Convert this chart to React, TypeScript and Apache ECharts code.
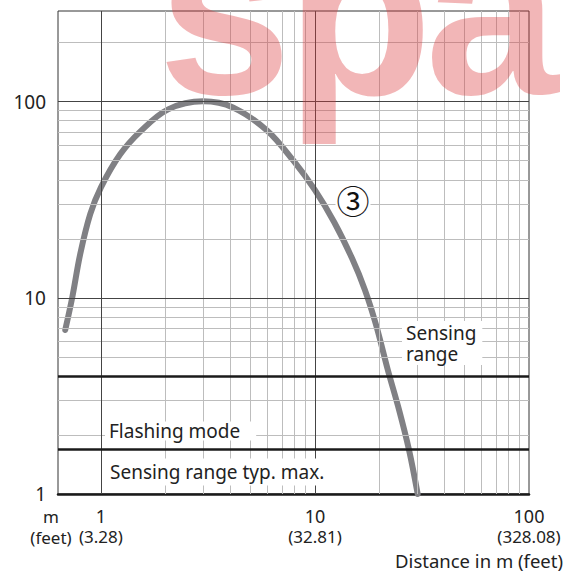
import React, { useEffect, useRef } from "react";
import * as echarts from "echarts";

// Curve ③ : distance (m) vs. excess gain
const curveX = [0.681, 0.735, 0.8, 0.891, 1.0, 1.23, 1.53, 2.06, 3.0, 4.14, 5.97, 7.9, 10, 12.3, 14.9, 17.1, 19.3, 21.9, 24.7, 27.5, 30.2];
const curveY = [6.86, 10.1, 16.7, 26.7, 36.6, 53.9, 70.6, 91.4, 100.4, 93.5, 71.4, 50.3, 35.4, 24.3, 15.9, 11.0, 7.27, 4.29, 2.69, 1.68, 1.0];

const xTickValues = [1, 10, 100];
const xTickMeters = ["1", "10", "100"];
const xTickFeet = ["(3.28)", "(32.81)", "(328.08)"];
const yTickValues = [1, 10, 100];
const yTickLabels = ["1", "10", "100"];

const xMinorGrid = [2, 3, 4, 5, 6, 7, 8, 9, 20, 30, 40, 50, 60, 70, 80, 90];
const xMajorGrid = [1, 10];
const yMinorGrid = [2, 3, 5, 6, 7, 8, 9, 20, 30, 40, 50, 60, 70, 80, 90, 200];
const yMajorGrid = [10, 100];
const thresholdLines = [1.7, 4]; // flashing mode, sensing range
const xRange = [0.63, 100];
const yRange = [1, 290];

const curveName = "③";
const labelSensingRange = "Sensing\nrange";
const labelFlashing = "Flashing mode";
const labelTypMax = "Sensing range typ. max.";
const axisUnit = "m\n(feet)";
const axisTitle = "Distance in m (feet)";
const watermarkLetters = ["s", "p", "a"];
const watermarkX = [158, 286, 425];

export default function App() {
  const ref = useRef<HTMLDivElement>(null);

  useEffect(() => {
    const chart = echarts.init(ref.current!, null, { renderer: "svg" });
    const font = '"Noto Sans", sans-serif';
    const textColor = "#222";
    const findIdx = (arr: number[], v: number) =>
      arr.findIndex((t) => Math.abs(Math.log10(t) - Math.log10(v)) < 1e-6);

    const lineItems: any[] = [];
    xMinorGrid.forEach((v) => lineItems.push({ xAxis: v, lineStyle: { color: "#bdbdbd", width: 1, type: "solid" } }));
    yMinorGrid.forEach((v) => lineItems.push({ yAxis: v, lineStyle: { color: "#bdbdbd", width: 1, type: "solid" } }));
    xMajorGrid.forEach((v) => lineItems.push({ xAxis: v, lineStyle: { color: "#444", width: 1, type: "solid" } }));
    yMajorGrid.forEach((v) => lineItems.push({ yAxis: v, lineStyle: { color: "#444", width: 1, type: "solid" } }));
    thresholdLines.forEach((v) => lineItems.push({ yAxis: v, lineStyle: { color: "#1a1a1a", width: 2.5, type: "solid" } }));

    const textStyle = (extra: any) => ({
      fontFamily: font,
      fontSize: 19,
      fill: textColor,
      ...extra,
    });

    chart.setOption({
      animation: false,
      backgroundColor: "#fff",
      grid: {
        left: 58,
        right: 37,
        top: 11,
        bottom: 80,
        show: true,
        borderColor: "#333",
        borderWidth: 1,
        backgroundColor: "transparent",
      },
      xAxis: {
        type: "log",
        logBase: 10,
        min: xRange[0],
        max: xRange[1],
        splitLine: { show: false },
        axisTick: { show: false },
        axisLine: { show: true, onZero: false, lineStyle: { color: "#1a1a1a", width: 2.5 } },
        axisLabel: {
          margin: 11,
          formatter: (v: number) => {
            const i = findIdx(xTickValues, v);
            return i < 0 ? "" : `{m|${xTickMeters[i]}}\n{f|${xTickFeet[i]}}`;
          },
          rich: {
            m: { fontFamily: font, fontSize: 18, lineHeight: 21, color: textColor },
            f: { fontFamily: font, fontSize: 17, lineHeight: 21, color: textColor },
          },
        },
      },
      yAxis: {
        type: "log",
        logBase: 10,
        min: yRange[0],
        max: yRange[1],
        splitLine: { show: false },
        axisTick: { show: false },
        axisLine: { show: false },
        axisLabel: {
          margin: 12,
          fontFamily: font,
          fontSize: 19,
          color: textColor,
          formatter: (v: number) => {
            const i = findIdx(yTickValues, v);
            return i < 0 ? "" : yTickLabels[i];
          },
        },
      },
      series: [
        {
          type: "line",
          data: [],
          z: 1,
          silent: true,
          markLine: {
            silent: true,
            symbol: ["none", "none"],
            label: { show: false },
            emphasis: { disabled: true },
            data: lineItems,
          },
        },
        {
          name: curveName,
          type: "line",
          z: 3,
          data: curveX.map((x, i) => [x, curveY[i]]),
          smooth: 0.35,
          showSymbol: false,
          symbol: "none",
          lineStyle: { color: "#808084", width: 6, cap: "round", join: "round" },
          silent: true,
        },
      ],
      graphic: [
        {
          type: "text",
          z: 50,
          x: 402,
          y: 321,
          style: textStyle({
            text: labelSensingRange,
            textAlign: "left",
            textVerticalAlign: "top",
            lineHeight: 21,
            backgroundColor: "#fff",
            padding: [1, 6, 1, 4],
          }),
        },
        {
          type: "text",
          z: 50,
          x: 105,
          y: 431,
          style: textStyle({
            text: labelFlashing,
            textAlign: "left",
            textVerticalAlign: "middle",
            backgroundColor: "#fff",
            padding: [0, 16, 0, 4],
          }),
        },
        {
          type: "text",
          z: 50,
          x: 106,
          y: 472,
          style: textStyle({
            text: labelTypMax,
            textAlign: "left",
            textVerticalAlign: "middle",
            backgroundColor: "#fff",
            padding: [4, 6, 4, 4],
          }),
        },
        {
          type: "text",
          z: 50,
          x: 353,
          y: 200,
          style: {
            text: curveName,
            fontFamily: '"Noto Sans CJK JP", "DejaVu Sans", sans-serif',
            fontSize: 33,
            fill: "#111",
            textAlign: "center",
            textVerticalAlign: "middle",
            backgroundColor: "#fff",
            padding: [0, 1, 0, 1],
          },
        },
        {
          type: "text",
          z: 50,
          x: 51,
          y: 506,
          style: {
            text: axisUnit,
            fontFamily: font,
            fontSize: 17,
            lineHeight: 21,
            fill: textColor,
            textAlign: "center",
            textVerticalAlign: "top",
          },
        },
        {
          type: "text",
          z: 50,
          x: 563,
          y: 560,
          style: textStyle({
            text: axisTitle,
            fontSize: 18.5,
            textAlign: "right",
            textVerticalAlign: "middle",
          }),
        },
        ...watermarkLetters.map((ch, i) => ({
          type: "text",
          z: 100,
          x: watermarkX[i],
          y: 11,
          silent: true,
          style: {
            text: ch,
            fontFamily: '"Liberation Sans", Arial, sans-serif',
            fontWeight: "bold",
            fontSize: 240,
            fill: "rgba(220,58,60,0.37)",
            textAlign: "left",
            textVerticalAlign: "middle",
          },
        })),
      ],
    });

    return () => chart.dispose();
  }, []);

  return (
    <div
      ref={ref}
      style={{ position: "absolute", left: 0, top: 0, width: 566, height: 574, background: "#fff" }}
    />
  );
}
